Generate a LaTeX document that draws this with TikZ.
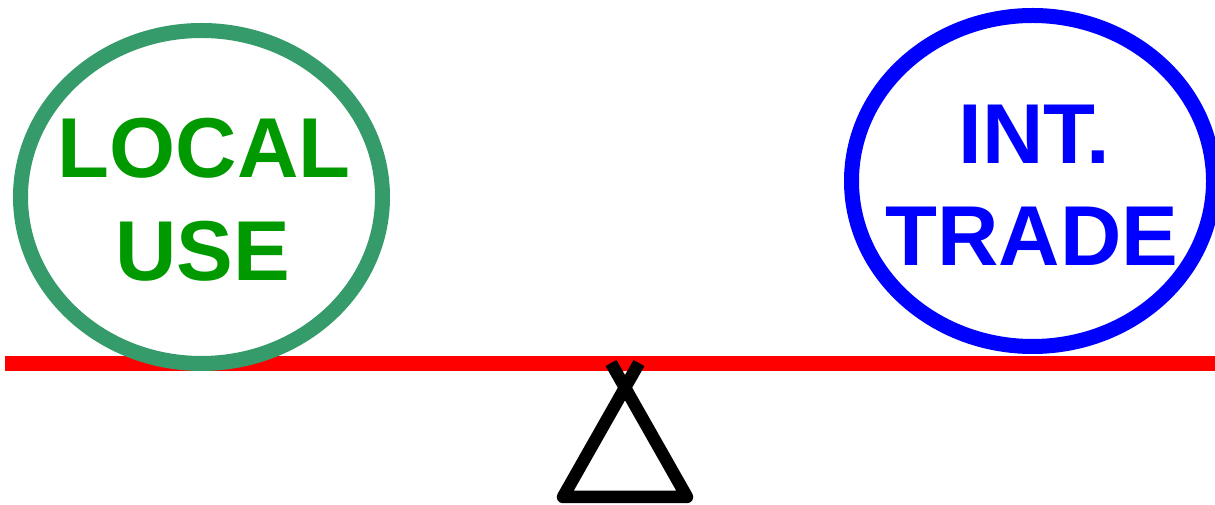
\documentclass[tikz,border=0pt]{standalone}
\usepackage{fontspec}
\setmainfont{Liberation Sans}
\definecolor{ellgreen}{RGB}{54,155,106}
\definecolor{txtgreen}{RGB}{0,153,0}
\definecolor{beamred}{RGB}{255,0,0}
\definecolor{ballblue}{RGB}{0,0,255}
\tikzset{
  ball/.style={line width=15pt, fill=white},
  lbl/.style={anchor=base, inner sep=0pt, font=\fontsize{85}{103}\selectfont\bfseries},
  beam/.style={draw=beamred, line width=15pt},
  fulcrum/.style={draw=black, line width=12.5pt, line join=round, line cap=butt}
}
\begin{document}
\begin{tikzpicture}[x=1pt,y=1pt]
\useasboundingbox (0,0) rectangle (1215,505);
\begin{scope}
\clip (0,0) rectangle (1215,505);
\coordinate (bl) at (5,141.5);
\coordinate (br) at (1215,141.5);
\draw[beam] (bl) -- (br);
\coordinate (local) at (201.5,308);
\coordinate (trade) at (1032.5,324);
\draw[ball, draw=ellgreen] (local) ellipse [x radius=181pt, y radius=166.5pt];
\draw[ball, draw=ballblue] (trade) ellipse [x radius=181pt, y radius=165.5pt];
\node[lbl, text=txtgreen] (t1) at (204,327) {LOCAL};
\node[lbl, text=txtgreen] (t2) at (202.5,224) {USE};
\node[lbl, text=ballblue] (t3) at (1034,341) {INT.};
\node[lbl, text=ballblue] (t4) at (1032,239) {TRADE};
\coordinate (f1) at (611,142);
\coordinate (f2) at (687,8);
\coordinate (f3) at (563,8);
\coordinate (f4) at (639,142);
\draw[fulcrum] (f1) -- (f2) -- (f3) -- (f4);
\end{scope}
\end{tikzpicture}
\end{document}
